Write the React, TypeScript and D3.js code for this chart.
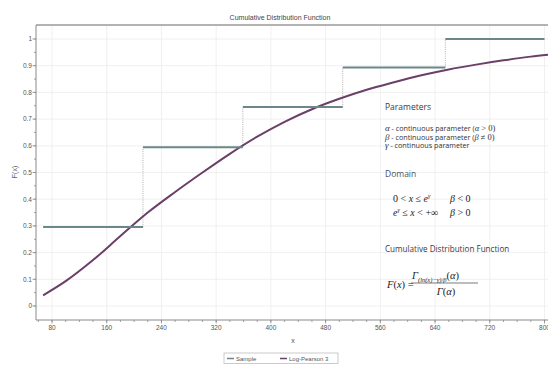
import React from "react";
import * as d3 from "d3";

const W = 548;
const H = 365;

// Sample (empirical CDF) step data
const sampleX = [67, 213, 359, 505, 655, 800];
const sampleF = [0.296, 0.595, 0.745, 0.893, 1.0];

// Fitted Log-Pearson 3 CDF
const fitX = [67, 100, 140, 180, 220, 260, 300, 340, 380, 420, 460, 500, 540, 580, 620, 660, 700, 740, 780, 810];
const fitF = [0.04, 0.093, 0.172, 0.262, 0.35, 0.427, 0.5, 0.57, 0.634, 0.69, 0.737, 0.776, 0.81, 0.838, 0.864, 0.886, 0.904, 0.92, 0.934, 0.942];

const xTicks = [80, 160, 240, 320, 400, 480, 560, 640, 720, 800];
const yTicks = [0, 0.1, 0.2, 0.3, 0.4, 0.5, 0.6, 0.7, 0.8, 0.9, 1];
const yTickLabels = ["0", "0.1", "0.2", "0.3", "0.4", "0.5", "0.6", "0.7", "0.8", "0.9", "1"];

const legendItems = ["Sample", "Log-Pearson 3"];

export default function App() {
  const left = 36;
  const top = 25;
  const bottom = 320;
  const x = d3.scaleLinear().domain([80, 800]).range([52, 544.5]);
  const y = d3.scaleLinear().domain([0, 1]).range([306, 39]);
  const right = W;

  const minorX = d3.range(60, 820, 20);
  const minorY = d3.range(0, 1.05, 0.05);

  const fitLine = d3
    .line<number>()
    .x((_, i) => x(fitX[i]))
    .y((d) => y(d))
    .curve(d3.curveMonotoneX);

  const axisColor = "#8a8a8a";
  const labelColor = "#555";
  const sans = "'Liberation Sans', Arial, sans-serif";
  const body = "'Open Sans', 'Noto Sans', sans-serif";
  const serif = "'Liberation Serif', 'DejaVu Serif', serif";
  const stepColor = "#6b8789";
  const fitColor = "#6a3f68";

  return (
    <svg
      width={W}
      height={H}
      style={{ position: "absolute", left: 0, top: 0, background: "#fff" }}
    >
      <defs>
        <clipPath id="plot">
          <rect x={left} y={top} width={right - left} height={bottom - top} />
        </clipPath>
      </defs>
      <rect x={0} y={0} width={W} height={H} fill="#fff" />
      {/* title */}
      <text x={280} y={20} textAnchor="middle" fontFamily={sans} fontSize={7} fill="#444">
        Cumulative Distribution Function
      </text>

      {/* grid */}
      <g stroke="#ececec" strokeWidth={0.8}>
        {xTicks.map((t) => (
          <line key={"gx" + t} x1={x(t)} x2={x(t)} y1={top} y2={bottom} />
        ))}
        {yTicks.map((t) => (
          <line key={"gy" + t} x1={left} x2={right} y1={y(t)} y2={y(t)} />
        ))}
      </g>

      {/* frame / axes */}
      <line x1={left} x2={right} y1={top} y2={top} stroke="#9a9a9a" strokeWidth={1.6} />
      <line x1={left} x2={left} y1={top} y2={bottom} stroke={axisColor} strokeWidth={1} />
      <line x1={left} x2={right} y1={bottom} y2={bottom} stroke={axisColor} strokeWidth={1} />

      {/* ticks */}
      <g stroke={axisColor} strokeWidth={0.8}>
        {minorX.map((t) => (
          <line key={"mx" + t} x1={x(t)} x2={x(t)} y1={bottom} y2={bottom + 2} />
        ))}
        {xTicks.map((t) => (
          <line key={"tx" + t} x1={x(t)} x2={x(t)} y1={bottom} y2={bottom + 3.5} />
        ))}
        {minorY.map((t, i) => (
          <line key={"my" + i} x1={left - 2} x2={left} y1={y(t)} y2={y(t)} />
        ))}
        {yTicks.map((t) => (
          <line key={"ty" + t} x1={left - 3.5} x2={left} y1={y(t)} y2={y(t)} />
        ))}
      </g>
      <g fontFamily={sans} fontSize={6.5} fill={labelColor}>
        {xTicks.map((t) => (
          <text key={"lx" + t} x={x(t)} y={330} textAnchor="middle">
            {t}
          </text>
        ))}
        {yTicks.map((t, i) => (
          <text key={"ly" + t} x={left - 4} y={y(t) + 2.3} textAnchor="end">
            {yTickLabels[i]}
          </text>
        ))}
      </g>
      <text x={293} y={343} textAnchor="middle" fontFamily={sans} fontSize={7} fill={labelColor}>
        x
      </text>
      <text
        transform="translate(17,172) rotate(-90)"
        textAnchor="middle"
        fontFamily={sans}
        fontSize={7}
        fill={labelColor}
      >
        F(x)
      </text>

      {/* data */}
      <g clipPath="url(#plot)">
        {sampleF.map((f, i) =>
          i < sampleF.length - 1 ? (
            <line
              key={"v" + i}
              x1={x(sampleX[i + 1])}
              x2={x(sampleX[i + 1])}
              y1={y(f)}
              y2={y(sampleF[i + 1])}
              stroke="#9a9a9a"
              strokeWidth={0.8}
              strokeDasharray="1,1.2"
            />
          ) : null
        )}
        <path d={fitLine(fitF) || ""} fill="none" stroke={fitColor} strokeWidth={2} />
        {sampleF.map((f, i) => (
          <line
            key={"h" + i}
            x1={x(sampleX[i])}
            x2={x(sampleX[i + 1])}
            y1={y(f)}
            y2={y(f)}
            stroke={stepColor}
            strokeWidth={2}
          />
        ))}
      </g>

      {/* annotation */}
      <g fill="#333">
        <text x={385} y={110} fontFamily={body} fontSize={8.5} fill="#3a3a3a">
          Parameters
        </text>
        <g fontFamily={body} fontSize={7.2}>
          <text x={385} y={131}>
            <tspan fontFamily={serif} fontStyle="italic" fontSize={9}>α</tspan>
            <tspan> - continuous parameter (</tspan>
            <tspan fontFamily={serif} fontStyle="italic" fontSize={8.5}>α</tspan>
            <tspan fontFamily={serif} fontSize={8.5}> &gt; 0)</tspan>
          </text>
          <text x={385} y={139.5}>
            <tspan fontFamily={serif} fontStyle="italic" fontSize={9}>β</tspan>
            <tspan> - continuous parameter (</tspan>
            <tspan fontFamily={serif} fontStyle="italic" fontSize={8.5}>β</tspan>
            <tspan fontFamily={serif} fontSize={8.5}> ≠ 0)</tspan>
          </text>
          <text x={385} y={148}>
            <tspan fontFamily={serif} fontStyle="italic" fontSize={9}>γ</tspan>
            <tspan> - continuous parameter</tspan>
          </text>
        </g>
        <text x={385} y={177} fontFamily={body} fontSize={8.5} fill="#4a5560">
          Domain
        </text>
        <g fontFamily={serif} fontSize={10} fill="#222">
          <text x={393} y={202}>
            0 &lt; <tspan fontStyle="italic">x</tspan> ≤ <tspan fontStyle="italic">e</tspan>
            <tspan fontSize={6} dy={-4} fontStyle="italic">γ</tspan>
          </text>
          <text x={450} y={202}>
            <tspan fontStyle="italic">β</tspan> &lt; 0
          </text>
          <text x={393} y={216}>
            <tspan fontStyle="italic">e</tspan>
            <tspan fontSize={6} dy={-4} fontStyle="italic">γ</tspan>
            <tspan dy={4}> ≤ </tspan>
            <tspan fontStyle="italic">x</tspan> &lt; +∞
          </text>
          <text x={450} y={216}>
            <tspan fontStyle="italic">β</tspan> &gt; 0
          </text>
        </g>
        <text x={385} y={252} fontFamily={body} fontSize={8.1} fill="#3a3a3a">
          Cumulative Distribution Function
        </text>
        <g fontFamily={serif} fill="#222">
          <text x={387} y={288} fontSize={10.5}>
            <tspan fontStyle="italic">F</tspan>(<tspan fontStyle="italic">x</tspan>) =
          </text>
          <text x={412} y={279} fontSize={10.5}>
            <tspan fontStyle="italic">Γ</tspan>
            <tspan fontSize={6.5} dy={2.5} fontStyle="italic">(ln(x)−γ)/β</tspan>
            <tspan dy={-2.5}>(</tspan>
            <tspan fontStyle="italic">α</tspan>
            <tspan>)</tspan>
          </text>
          <line x1={411} x2={478} y1={283} y2={283} stroke="#222" strokeWidth={0.6} />
          <text x={446} y={294.5} fontSize={10.5} textAnchor="middle">
            <tspan fontStyle="italic">Γ</tspan>(<tspan fontStyle="italic">α</tspan>)
          </text>
        </g>
      </g>

      {/* legend */}
      <g>
        <rect x={224} y={353} width={114} height={10.5} fill="#fff" stroke="#b5b5b5" strokeWidth={0.7} />
        {legendItems.map((name, i) => {
          const lx = i === 0 ? 227 : 280;
          const color = i === 0 ? stepColor : fitColor;
          return (
            <g key={name}>
              <line x1={lx} x2={lx + 7} y1={358.5} y2={358.5} stroke={color} strokeWidth={1.5} />
              <text x={lx + 9} y={361} fontFamily={sans} fontSize={6} fill="#555">
                {name}
              </text>
            </g>
          );
        })}
      </g>
    </svg>
  );
}
